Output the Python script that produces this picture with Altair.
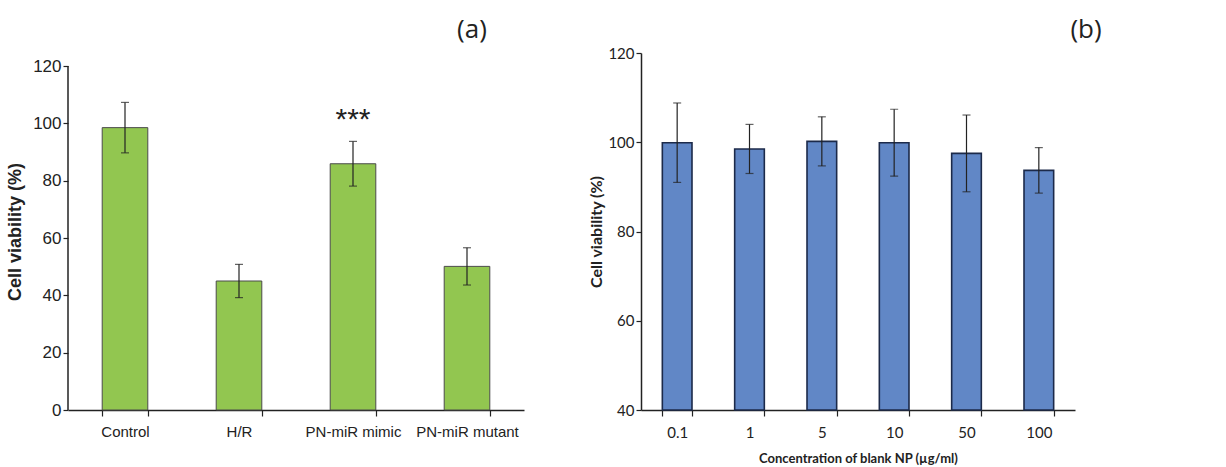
import altair as alt
import pandas as pd

# ---- Panel (a) data ----
a_groups = ["Control", "H/R", "PN-miR mimic", "PN-miR mutant"]
a_values = [98.5, 45.0, 85.9, 50.1]
a_errors = [8.8, 5.8, 7.8, 6.5]
a_sig = ["", "", "***", ""]

# ---- Panel (b) data ----
b_conc = ["0.1", "1", "5", "10", "50", "100"]
b_values = [99.9, 98.5, 100.2, 99.9, 97.5, 93.7]
b_errors = [8.9, 5.5, 5.5, 7.5, 8.6, 5.1]

panel_labels = ["(a)", "(b)"]

df_a = pd.DataFrame({"g": a_groups, "v": a_values, "e": a_errors, "sig": a_sig})
df_a["lo"] = df_a["v"] - df_a["e"]
df_a["hi"] = df_a["v"] + df_a["e"]
df_b = pd.DataFrame({"c": b_conc, "v": b_values, "e": b_errors})
df_b["lo"] = df_b["v"] - df_b["e"]
df_b["hi"] = df_b["v"] + df_b["e"]

H = 357
W_A = 456
W_B = 434
A_TOP = 120 * H / 344.0  # extend domain so panel (a) plot top lines up

FA = "Liberation Sans"
FB = "Lato"
YT = "Cell viability (%)"

xa = alt.X("g:N", sort=a_groups, title=None,
           scale=alt.Scale(paddingInner=0.6, paddingOuter=0.3),
           axis=alt.Axis(labelAngle=0, labelFont=FA, labelFontSize=15, labelColor="#222",
                         labelPadding=8, tickBand="extent", tickSize=6, tickColor="#222",
                         domainColor="#222", domainWidth=1.5, tickWidth=1.2))
ya = alt.Y("v:Q", title=YT,
           scale=alt.Scale(domain=[0, A_TOP], nice=False, zero=True),
           axis=alt.Axis(values=[0, 20, 40, 60, 80, 100, 120], grid=False, domain=False,
                         labelFont=FA, labelFontSize=17, labelColor="#222", tickSize=5,
                         tickColor="#222", tickWidth=1.2, titleFont=FA, titleFontSize=18,
                         titleFontWeight="bold", titleColor="#222", titlePadding=8, labelPadding=2))

base_a = alt.Chart(df_a)
bars_a = base_a.mark_bar(color="#92c650", stroke="#4a4a4a", strokeWidth=1).encode(x=xa, y=ya)
err_a = base_a.mark_errorbar(ticks=alt.MarkConfig(size=8), color="#222", thickness=1.2).encode(
    x=alt.X("g:N", sort=a_groups), y=alt.Y("lo:Q", title=YT), y2="hi:Q")
sig_a = base_a.mark_text(font=FA, fontSize=30, color="#222", baseline="middle", dy=16).encode(
    x=alt.X("g:N", sort=a_groups), y=alt.Y("sy:Q", title=YT), text="sig:N").transform_calculate(
    sy="datum.v + datum.e + 13")
axis_a = alt.Chart(pd.DataFrame({"y0": [0], "y1": [120]})).mark_rule(color="#222", strokeWidth=1.5).encode(
    x=alt.value(0), y=alt.Y("y0:Q", title=YT), y2="y1:Q")
lab_a = alt.Chart(pd.DataFrame({"t": [panel_labels[0]]})).mark_text(
    font="Open Sans", fontSize=26, color="#222", baseline="middle").encode(
    x=alt.value(404), y=alt.value(-23), text="t:N")
panel_a = alt.layer(bars_a, err_a, sig_a, axis_a, lab_a).properties(width=W_A, height=H)

xb = alt.X("c:N", sort=b_conc, title="Concentration of blank NP (µg/ml)",
           scale=alt.Scale(paddingInner=0.59, paddingOuter=0.295),
           axis=alt.Axis(labelAngle=0, labelFont=FB, labelFontSize=15, labelColor="#222",
                         labelPadding=9, tickBand="extent", tickSize=6, tickColor="#222",
                         domainColor="#222", domainWidth=1.5, tickWidth=1.2,
                         titleFont=FB, titleFontSize=13, titleFontWeight="bold",
                         titleColor="#222", titlePadding=12))
yb = alt.Y("v:Q", title=YT,
           scale=alt.Scale(domain=[40, 120], nice=False, zero=False),
           axis=alt.Axis(values=[40, 60, 80, 100, 120], grid=False, domainColor="#222",
                         domainWidth=1.5, labelFont=FB, labelFontSize=15, labelColor="#222",
                         tickSize=5, tickColor="#222", tickWidth=1.2, titleFont=FB,
                         titleFontSize=16, titleFontWeight="bold", titleColor="#222",
                         titlePadding=3, labelPadding=2))
base_b = alt.Chart(df_b)
bars_b = base_b.mark_bar(color="#6187c6", stroke="#1c2a4a", strokeWidth=1.6).encode(
    x=xb, y=yb, y2=alt.datum(40))
err_b = base_b.mark_errorbar(ticks=alt.MarkConfig(size=8), color="#222", thickness=1.2).encode(
    x=alt.X("c:N", sort=b_conc), y=alt.Y("lo:Q", title=YT), y2="hi:Q")
lab_b = alt.Chart(pd.DataFrame({"t": [panel_labels[1]]})).mark_text(
    font="Open Sans", fontSize=26, color="#222", baseline="middle").encode(
    x=alt.value(445), y=alt.value(-23), text="t:N")
panel_b = alt.layer(bars_b, err_b, lab_b).properties(width=W_B, height=H)

chart = alt.hconcat(panel_a, panel_b, spacing=64).configure_view(stroke=None).properties(
    padding={"left": 6, "top": 17, "right": 5, "bottom": 5})

chart.save("out.html", embed_options={"renderer": "svg", "actions": False})
